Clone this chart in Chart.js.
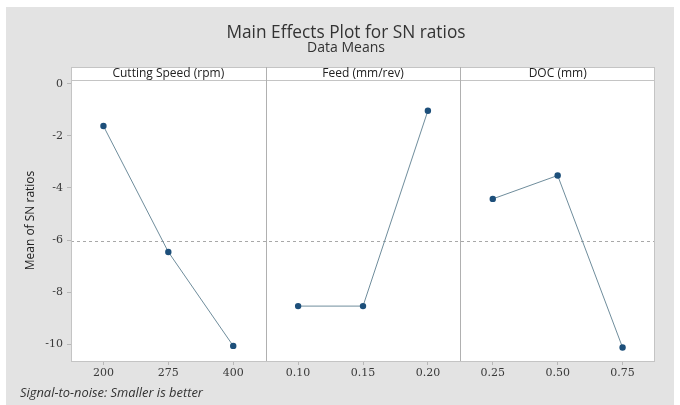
<!DOCTYPE html>
<html>
<head>
<meta charset="utf-8">
<script src="https://cdn.jsdelivr.net/npm/chart.js@4.4.1/dist/chart.umd.min.js"></script>
<style>
  html, body { margin: 0; padding: 0; background: #ffffff; }
  #wrap { width: 680px; height: 405px; }
</style>
</head>
<body>
<div id="wrap"><canvas id="c" width="680" height="405"></canvas></div>
<script>
// ---- Data ----
const panelTitles = ['Cutting Speed (rpm)', 'Feed (mm/rev)', 'DOC (mm)'];
const speedLevels = ['200', '275', '400'];
const speedSN = [-1.62, -6.46, -10.07];
const feedLevels = ['0.10', '0.15', '0.20'];
const feedSN = [-8.54, -8.54, -1.03];
const docLevels = ['0.25', '0.50', '0.75'];
const docSN = [-4.42, -3.52, -10.13];
const yTickValues = [0, -2, -4, -6, -8, -10];
const yMin = -10.65, yMax = 0.15;

const titleText = 'Main Effects Plot for SN ratios';
const subtitleText = 'Data Means';
const yAxisTitle = 'Mean of SN ratios';
const footText = 'Signal-to-noise: Smaller is better';

const groups = [
  { levels: speedLevels, values: speedSN },
  { levels: feedLevels, values: feedSN },
  { levels: docLevels, values: docSN }
];
const allLabels = groups.flatMap(g => g.levels);
const allValues = groups.flatMap(g => g.values);
const overallMean = allValues.reduce((a, b) => a + b, 0) / allValues.length;

const LINE_COLOR = '#6f8d9c';
const POINT_COLOR = '#1d4f7a';
const FRAME_COLOR = '#c4c4c4';
const TEXT_COLOR = '#333333';
const SANS = '"Open Sans", "DejaVu Sans", sans-serif';
const SERIF = '"DejaVu Serif", "Liberation Serif", serif';

const datasets = groups.map(g => ({
  data: g.levels.map((lv, i) => ({ x: lv, y: g.values[i] })),
  borderColor: LINE_COLOR,
  borderWidth: 1,
  pointBackgroundColor: POINT_COLOR,
  pointBorderColor: POINT_COLOR,
  pointRadius: 3.2,
  pointBorderWidth: 0,
  tension: 0,
  fill: false
}));

const STRIP_H = 13;

const decor = {
  id: 'decor',
  beforeDraw(chart) {
    const ctx = chart.ctx;
    const a = chart.chartArea;
    ctx.save();
    ctx.fillStyle = '#ffffff';
    ctx.fillRect(0, 0, chart.width, chart.height);
    ctx.fillStyle = '#e3e3e3';
    ctx.fillRect(6, 7, 668, 398);
    ctx.fillStyle = '#ffffff';
    ctx.fillRect(a.left, a.top - STRIP_H, a.right - a.left, a.bottom - a.top + STRIP_H);
    ctx.restore();
  },
  beforeDatasetsDraw(chart) {
    const ctx = chart.ctx;
    const a = chart.chartArea;
    const ys = chart.scales.y;
    const yy = Math.round(ys.getPixelForValue(overallMean)) + 0.5;
    ctx.save();
    ctx.strokeStyle = '#a8a8a8';
    ctx.lineWidth = 1;
    ctx.setLineDash([3, 3]);
    ctx.beginPath();
    ctx.moveTo(a.left, yy);
    ctx.lineTo(a.right, yy);
    ctx.stroke();
    ctx.restore();
  },
  afterDraw(chart) {
    const ctx = chart.ctx;
    const a = chart.chartArea;
    const xs = chart.scales.x;
    ctx.save();
    const bounds = [a.left];
    let idx = 0;
    groups.forEach((g, gi) => {
      idx += g.levels.length;
      if (gi < groups.length - 1) {
        bounds.push((xs.getPixelForValue(idx - 1) + xs.getPixelForValue(idx)) / 2);
      }
    });
    bounds.push(a.right);

    ctx.strokeStyle = FRAME_COLOR;
    ctx.lineWidth = 1;
    ctx.strokeRect(Math.round(a.left) + 0.5, Math.round(a.top - STRIP_H) + 0.5,
      Math.round(a.right - a.left) - 1, Math.round(a.bottom - a.top + STRIP_H));
    ctx.beginPath();
    ctx.moveTo(a.left, Math.round(a.top) + 0.5);
    ctx.lineTo(a.right, Math.round(a.top) + 0.5);
    ctx.stroke();
    ctx.strokeStyle = '#b0b0b0';
    for (let i = 1; i < bounds.length - 1; i++) {
      const x = Math.round(bounds[i]) + 0.5;
      ctx.beginPath();
      ctx.moveTo(x, a.top - STRIP_H);
      ctx.lineTo(x, a.bottom);
      ctx.stroke();
    }
    ctx.fillStyle = '#222';
    ctx.font = '12px ' + SANS;
    ctx.textAlign = 'center';
    ctx.textBaseline = 'middle';
    panelTitles.forEach((t, i) => {
      ctx.fillText(t, (bounds[i] + bounds[i + 1]) / 2, a.top - STRIP_H / 2);
    });
    ctx.fillStyle = TEXT_COLOR;
    ctx.font = '17.3px ' + SANS;
    ctx.fillText(titleText, 346, 33);
    ctx.font = '14px ' + SANS;
    ctx.fillText(subtitleText, 346, 48);
    ctx.save();
    ctx.translate(31, (a.top + a.bottom) / 2);
    ctx.rotate(-Math.PI / 2);
    ctx.font = '12px ' + SANS;
    ctx.fillStyle = '#222';
    ctx.fillText(yAxisTitle, 0, 0);
    ctx.restore();
    ctx.textAlign = 'left';
    ctx.font = 'italic 12.9px ' + SANS;
    ctx.fillStyle = '#333';
    ctx.fillText(footText, 20, 393);
    ctx.restore();
  }
};

new Chart(document.getElementById('c'), {
  type: 'line',
  data: { labels: allLabels, datasets },
  options: {
    responsive: false,
    devicePixelRatio: 1,
    animation: false,
    layout: { padding: { top: 80, right: 25, bottom: 0, left: 0 } },
    plugins: { legend: { display: false }, tooltip: { enabled: false } },
    scales: {
      x: {
        type: 'category',
        offset: true,
        grid: { display: true, drawOnChartArea: false, offset: false, tickLength: 4, color: '#b8b8b8' },
        border: { display: false },
        ticks: { color: '#3a3a3a', font: { family: SERIF, size: 11 }, padding: 2, maxRotation: 0, autoSkip: false },
        afterFit(s) { s.height = 44; }
      },
      y: {
        type: 'linear',
        min: yMin,
        max: yMax,
        grid: { display: true, drawOnChartArea: false, tickLength: 4, color: '#b8b8b8' },
        border: { display: false },
        afterBuildTicks(s) { s.ticks = yTickValues.map(v => ({ value: v })); },
        ticks: { color: '#3a3a3a', font: { family: SERIF, size: 11 }, padding: 4,
          callback: v => String(v) },
        afterFit(s) { s.width = 71; }
      }
    }
  },
  plugins: [decor]
});
</script>
</body>
</html>
